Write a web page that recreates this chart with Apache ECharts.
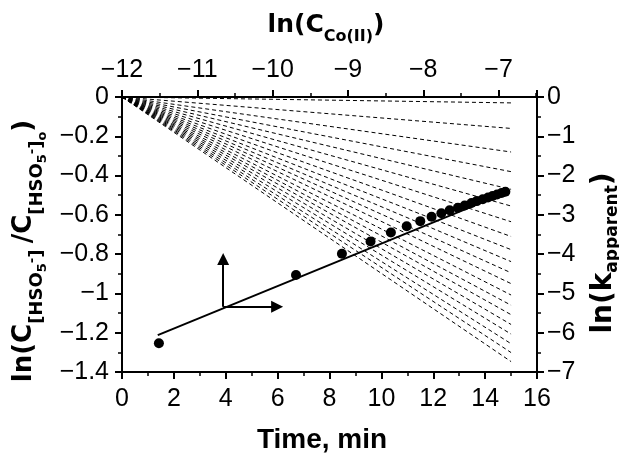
<!DOCTYPE html>
<html>
<head>
<meta charset="utf-8">
<script src="https://cdn.jsdelivr.net/npm/echarts@6/dist/echarts.min.js"></script>
<style>
html,body{margin:0;padding:0;background:#fff;}
#c{width:619px;height:453px;}
</style>
</head>
<body>
<div id="c"></div>
<script>
// ---- data ----
// ln(C_Co(II)) (top axis) and ln(k_apparent) (right axis) for the filled circles
const lnC = [-11.51, -9.69, -9.08, -8.70, -8.43, -8.22, -8.04, -7.89, -7.76, -7.65,
             -7.54, -7.45, -7.36, -7.29, -7.21, -7.14, -7.08, -7.02, -6.96, -6.91];
const lnK = [-6.27, -4.53, -3.99, -3.68, -3.45, -3.29, -3.16, -3.05, -2.96, -2.885,
             -2.82, -2.76, -2.70, -2.65, -2.605, -2.56, -2.52, -2.48, -2.445, -2.41];
// linear fit of ln(k) vs ln(C)
const fitLnC = [-11.525, -6.87];
const fitLnK = [-6.06, -2.41];
// dashed first-order decay lines: start at time 0 (value 0), end at time decayEndTime
const decayStartTime = 0;
const decayStartValue = 0;
const decayEndTime = 15;
const decayEnd = [-0.03, -0.16, -0.28, -0.38, -0.47, -0.555, -0.635, -0.71, -0.777, -0.838,
                  -0.895, -0.95, -1.008, -1.06, -1.108, -1.158, -1.207, -1.256, -1.301, -1.347];
// arrow annotation (bottom/left axis coordinates)
const arrowOrigin = [3.9, -1.068];
const arrowUpEnd = [3.9, -0.825];
const arrowRightEnd = [5.98, -1.068];

// ---- chart ----
const fmt = v => String(Math.round(v * 100) / 100).replace('-', '\u2212');
const black = '#000';
const labelFont = 'Liberation Sans, Arial, sans-serif';

function axis(extra, labelExtra) {
  return Object.assign({
    type: 'value',
    splitLine: { show: false },
    axisLine: { show: true, onZero: false, lineStyle: { color: black, width: 2 } },
    axisTick: { show: true, inside: false, length: 7, lineStyle: { color: black, width: 2 } },
    minorTick: { show: true, splitNumber: 2, length: 4, lineStyle: { color: black, width: 1.5 } },
    axisLabel: Object.assign({ color: black, fontSize: 25, fontFamily: labelFont, formatter: fmt }, labelExtra)
  }, extra);
}

const series = [];
decayEnd.forEach((yEnd, i) => {
  series.push({
    type: 'line', name: 'decay ' + (i + 1), xAxisIndex: 0, yAxisIndex: 0,
    data: [[decayStartTime, decayStartValue], [decayEndTime, yEnd]],
    symbol: 'none', silent: true, animation: false,
    lineStyle: { color: black, width: 1, type: [4, 3] }
  });
});
series.push({
  type: 'line', name: 'fit', xAxisIndex: 1, yAxisIndex: 1,
  data: fitLnC.map((c, i) => [c, fitLnK[i]]),
  symbol: 'none', silent: true, animation: false,
  lineStyle: { color: black, width: 2 }
});
series.push({
  type: 'scatter', name: 'ln k', xAxisIndex: 1, yAxisIndex: 1,
  data: lnC.map((c, i) => [c, lnK[i]]),
  symbol: 'circle', symbolSize: 10, silent: true, animation: false,
  itemStyle: { color: black, opacity: 1 }
});
series.push({
  type: 'line', name: 'arrows', xAxisIndex: 0, yAxisIndex: 0, data: [],
  silent: true, animation: false,
  markLine: {
    silent: true, animation: false,
    symbol: ['none', 'triangle'], symbolSize: 12,
    label: { show: false },
    lineStyle: { color: black, width: 2, type: 'solid', opacity: 1 },
    itemStyle: { color: black, opacity: 1 },
    data: [
      [{ coord: arrowOrigin }, { coord: arrowUpEnd }],
      [{ coord: arrowOrigin }, { coord: arrowRightEnd }]
    ]
  }
});

const titleFont = 'DejaVu Sans, sans-serif';
function tok(size, shift) {
  return { fontSize: size, fontWeight: 'bold', fontFamily: titleFont, fill: black,
           verticalAlign: 'middle', padding: shift > 0 ? [shift * 2, 0, 0, 0] : [0, 0, -shift * 2, 0] };
}

const option = {
  backgroundColor: '#fff',
  animation: false,
  grid: { left: 122, right: 82, top: 97, bottom: 81, containLabel: false },
  xAxis: [
    axis({ position: 'bottom', min: 0, max: 16, interval: 2 }, { margin: 15 }),
    axis({ position: 'top', min: -12, max: -6.49, interval: 1 }, { margin: 14, showMaxLabel: false })
  ],
  yAxis: [
    axis({ position: 'left', min: -1.4, max: 0, interval: 0.2 }, { margin: 13 }),
    axis({ position: 'right', min: -7, max: 0, interval: 1 }, { margin: 10 })
  ],
  series: series,
  graphic: [
    {
      type: 'text', x: 326, y: 25, silent: true,
      style: {
        text: '{m|ln(C}{s|Co(II)}{m|)}',
        rich: { m: tok(25, 0), s: tok(16, 11.5) },
        align: 'center', verticalAlign: 'middle'
      }
    },
    {
      type: 'text', x: 322, y: 440, silent: true,
      style: {
        text: 'Time, min', fill: black,
        font: 'bold 28px Liberation Sans, Arial, sans-serif',
        align: 'center', verticalAlign: 'middle'
      }
    },
    {
      type: 'text', x: 24, y: 251, rotation: Math.PI / 2, silent: true,
      style: {
        text: '{m|ln(C}{s|[HSO}{ss|5}{sp|-}{s|] }{m|/C}{s|[HSO}{ss|5}{sp|-}{s|]}{ss|o}{m|)}',
        rich: { m: tok(26, 0), s: tok(18, 13.5), ss: tok(13, 18.5), sp: tok(13, 8.5) },
        align: 'center', verticalAlign: 'middle'
      }
    },
    {
      type: 'text', x: 604, y: 253, rotation: Math.PI / 2, silent: true,
      style: {
        text: '{m|ln(k}{s|apparent}{m|)}',
        rich: { m: tok(28, 0), s: tok(17, 8.5) },
        align: 'center', verticalAlign: 'middle'
      }
    }
  ]
};

const chart = echarts.init(document.getElementById('c'), null, { renderer: 'canvas' });
chart.setOption(option);
</script>
</body>
</html>
